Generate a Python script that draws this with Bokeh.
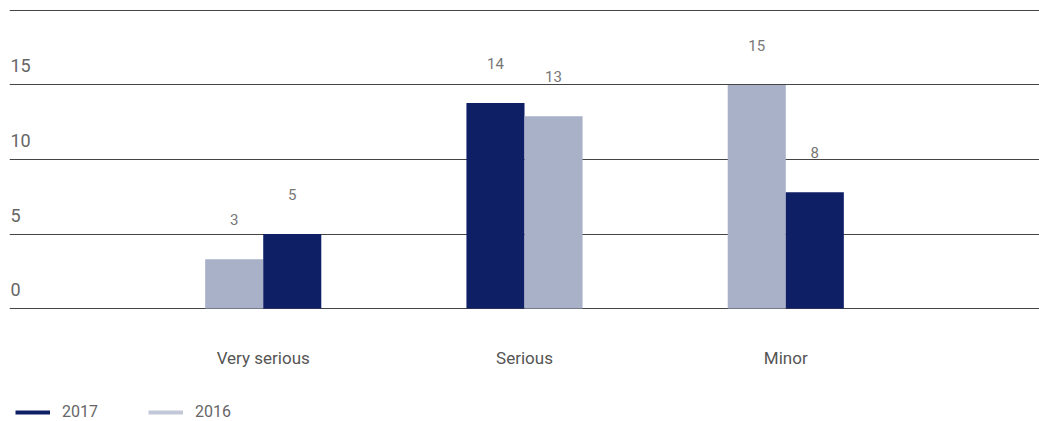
from bokeh.plotting import figure
from bokeh.models import (FactorRange, Range1d, ColumnDataSource, LabelSet, Label,
                          Legend, LegendItem, FixedTicker)
from bokeh.core.properties import value
from bokeh.embed import file_html
from bokeh.resources import INLINE

# ---- data ----
categories = ["Very serious", "Serious", "Minor"]
years = ["2017", "2016"]
values_2017 = [5, 13.8, 7.8]
values_2016 = [3.3, 12.9, 15]
bar_order = [["2016", "2017"], ["2017", "2016"], ["2016", "2017"]]
y_ticks = [0, 5, 10, 15, 20]
y_tick_labels = ["0", "5", "10", "15", ""]

colors = {"2017": "#0f1f66", "2016": "#a9b1c9"}
legend_colors = {"2017": "#0f1f66", "2016": "#c3c8d8"}
FONT = "Roboto"

series = {"2017": values_2017, "2016": values_2016}

xs, ys, cols, txt = [], [], [], []
for ci, cat in enumerate(categories):
    for yr in bar_order[ci]:
        v = series[yr][ci]
        xs.append((cat, yr))
        ys.append(v)
        cols.append(colors[yr])
        txt.append(f"{v:.0f}")
src = ColumnDataSource(dict(x=xs, top=ys, color=cols, text=txt))

x_range = FactorRange(factors=xs, factor_padding=0, group_padding=2.5,
                      range_padding=3.37, range_padding_units="absolute")

p = figure(width=1039, height=421, x_range=x_range, y_range=Range1d(-7.58, 20.67),
           output_backend="svg", toolbar_location=None,
           min_border_left=9, min_border_right=0, min_border_top=0, min_border_bottom=0)
p.outline_line_color = None
p.xaxis.visible = False
p.yaxis.visible = False
p.xgrid.visible = False
p.ygrid.ticker = FixedTicker(ticks=y_ticks)
p.ygrid.grid_line_color = "#444444"
p.ygrid.grid_line_width = 1

p.vbar(x="x", top="top", bottom=0, width=1.0, fill_color="color", line_color=None, source=src)

# value labels
p.add_layout(LabelSet(x="x", y="top", text="text", source=src, y_offset=34,
                      text_align="center", text_baseline="alphabetic",
                      text_font=value(FONT), text_font_size="15px", text_color="#777777"))

# category labels
cat_src = ColumnDataSource(dict(x=categories, y=[0] * len(categories), text=categories))
p.add_layout(LabelSet(x="x", y="y", text="text", source=cat_src, y_offset=-49,
                      text_align="center", text_baseline="middle",
                      text_font=value(FONT), text_font_size="17px", text_color="#555555"))

# y tick labels (above lines, at left)
for t, lab in zip(y_ticks, y_tick_labels):
    if lab:
        p.add_layout(Label(x=1, x_units="screen", y=t, y_units="data", text=lab,
                           y_offset=19, text_align="left", text_baseline="alphabetic",
                           text_font=FONT, text_font_size="18px", text_color="#666666"))

# legend
items = []
for ci, yr in enumerate(years):
    r = p.line(x=[xs[ci]], y=[float("nan")], line_color=legend_colors[yr], line_width=4)
    items.append(LegendItem(label=yr, renderers=[r]))
legend = Legend(items=items, orientation="horizontal", location=(6, 0),
                glyph_width=35, glyph_height=16, label_height=16, label_standoff=12,
                spacing=50, padding=0, margin=0, border_line_color=None,
                background_fill_alpha=0, label_text_font=FONT,
                label_text_font_size="16px", label_text_color="#666666")
p.add_layout(legend, "center")

open("out.html", "w").write(file_html(p, INLINE))
